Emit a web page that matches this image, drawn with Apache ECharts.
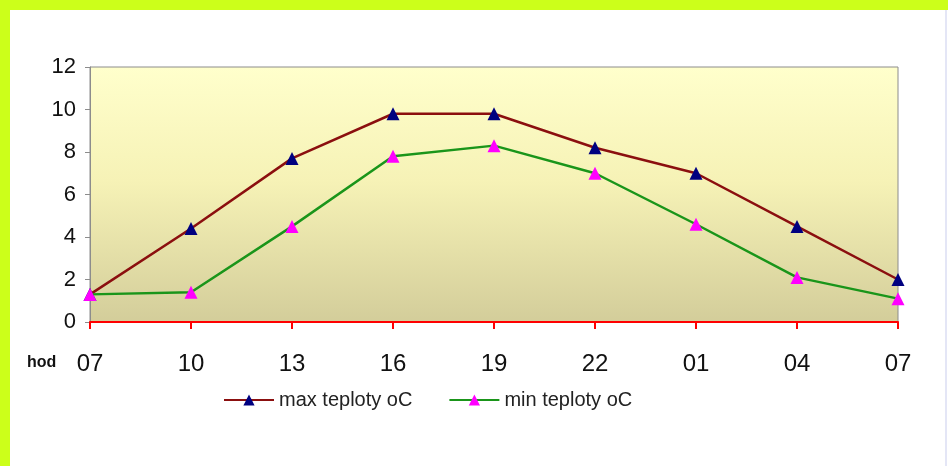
<!DOCTYPE html>
<html>
<head>
<meta charset="utf-8">
<script src="https://cdn.jsdelivr.net/npm/echarts@6/dist/echarts.min.js"></script>
<style>
html, body { margin: 0; padding: 0; background: #fff; }
#chart { width: 948px; height: 466px; }
</style>
</head>
<body>
<div id="chart"></div>
<script>
var hours = ['07', '10', '13', '16', '19', '22', '01', '04', '07'];
var maxTemps = [1.3, 4.4, 7.7, 9.8, 9.8, 8.2, 7.0, 4.5, 2.0];
var minTemps = [1.3, 1.4, 4.5, 7.8, 8.3, 7.0, 4.6, 2.1, 1.1];

var chart = echarts.init(document.getElementById('chart'));
var option = {
    backgroundColor: '#ffffff',
    animation: false,
    textStyle: { fontFamily: 'Liberation Sans, Arial, sans-serif' },
    graphic: [
        // zeleny ramecek vlevo a nahore
        { type: 'rect', shape: { x: 0, y: 0, width: 948, height: 10 }, style: { fill: '#ccff1a' } },
        { type: 'rect', shape: { x: 0, y: 0, width: 10, height: 466 }, style: { fill: '#ccff1a' } },
        { type: 'rect', shape: { x: 945, y: 10, width: 2, height: 456 }, style: { fill: '#e4e6f6' } },
        {
            type: 'text', left: 27, top: 355,
            style: { text: 'hod', font: 'bold 16px Liberation Sans, Arial', fill: '#111' }
        }
    ],
    grid: {
        left: 90, right: 50, top: 67, bottom: 144,
        show: true,
        borderColor: '#8c8c8c',
        borderWidth: 1,
        backgroundColor: {
            type: 'linear', x: 0, y: 0, x2: 0, y2: 1,
            colorStops: [
                { offset: 0, color: '#ffffcc' },
                { offset: 0.45, color: '#f6f2b6' },
                { offset: 1, color: '#d3cd9a' }
            ]
        }
    },
    legend: {
        bottom: 51,
        left: 218,
        itemGap: 36,
        itemWidth: 50,
        itemHeight: 14,
        textStyle: { fontSize: 20, color: '#222' },
        data: ['max teploty oC', 'min teploty oC']
    },
    xAxis: {
        type: 'category',
        boundaryGap: false,
        data: hours,
        axisLine: { lineStyle: { color: '#ff0000', width: 2 } },
        axisTick: { show: true, length: 7, lineStyle: { color: '#ff0000', width: 2 } },
        axisLabel: { fontSize: 24, color: '#111', margin: 30 },
        splitLine: { show: false }
    },
    yAxis: {
        type: 'value',
        min: 0, max: 12, interval: 2,
        axisLine: { show: true, lineStyle: { color: '#8c8c8c' } },
        axisTick: { show: true, length: 5, lineStyle: { color: '#8c8c8c' } },
        axisLabel: { fontSize: 22, color: '#111', margin: 14 },
        splitLine: { show: false }
    },
    series: [{
        name: 'max teploty oC',
        type: 'line',
        data: maxTemps,
        symbol: 'triangle',
        symbolSize: 13,
        lineStyle: { color: '#8b0f0f', width: 2.5 },
        itemStyle: { color: '#000080' },
        z: 3
    }, {
        name: 'min teploty oC',
        type: 'line',
        data: minTemps,
        symbol: 'triangle',
        symbolSize: 13,
        lineStyle: { color: '#1a951a', width: 2.5 },
        itemStyle: { color: '#ff00ff' },
        z: 4
    }]
};
chart.setOption(option);
</script>
</body>
</html>
